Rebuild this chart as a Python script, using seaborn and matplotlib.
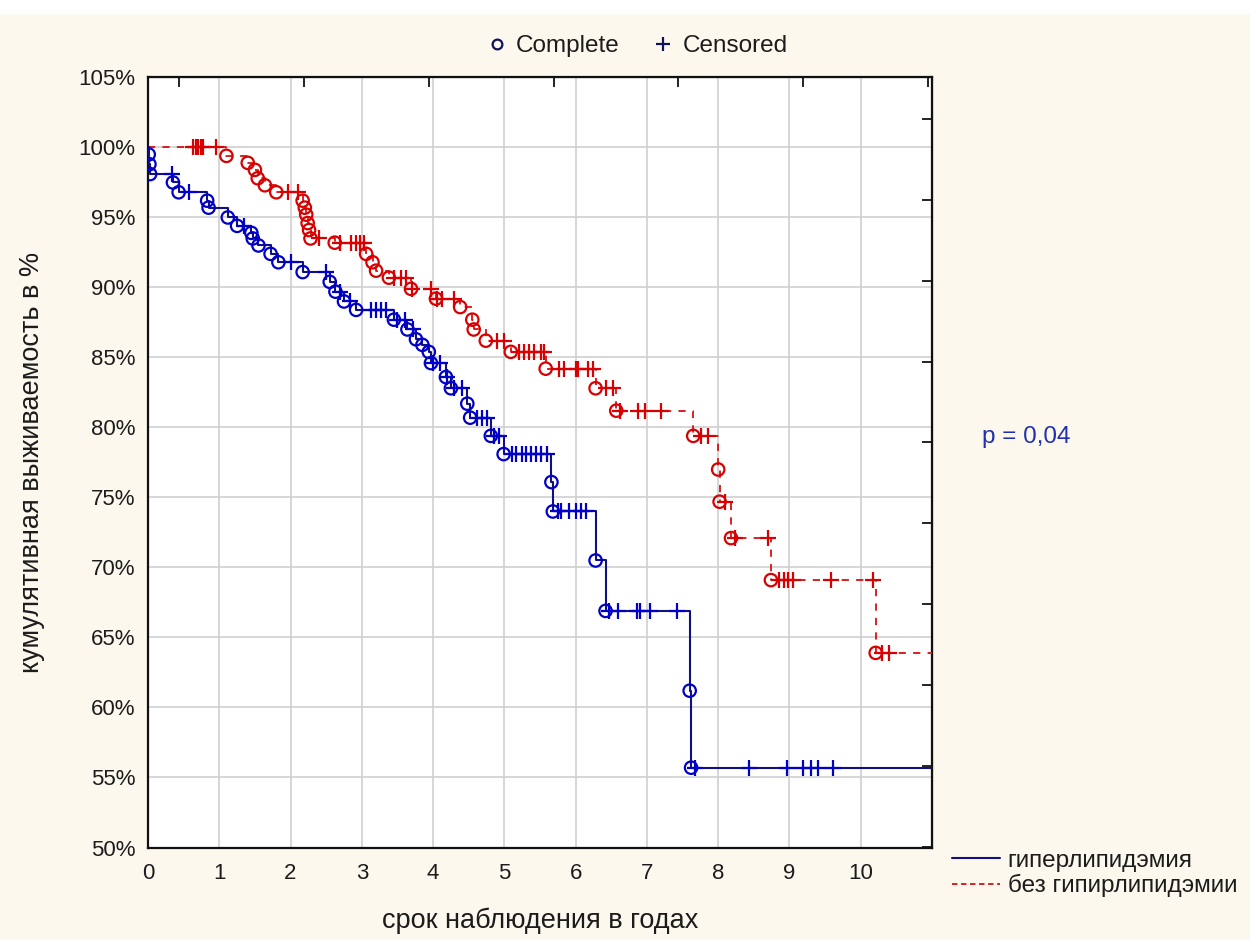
import numpy as np
import pandas as pd
import matplotlib
matplotlib.use("Agg")
import matplotlib.pyplot as plt
from matplotlib.lines import Line2D
from matplotlib.patches import Rectangle
import seaborn as sns

# group 1: гиперлипидэмия (solid blue)
hyper_event_t = [0.01, 0.02, 0.03, 0.35, 0.43, 0.83, 0.85, 1.12, 1.25, 1.45, 1.47, 1.55,
                 1.72, 1.83, 2.17, 2.55, 2.63, 2.75, 2.92, 3.45, 3.64, 3.76, 3.85, 3.94,
                 3.97, 4.18, 4.25, 4.48, 4.52, 4.81, 4.99, 5.66, 5.68, 6.28, 6.42, 7.60, 7.62]
hyper_event_s = [99.5, 98.8, 98.1, 97.5, 96.8, 96.2, 95.7, 95.0, 94.4, 93.9, 93.5, 93.0,
                 92.4, 91.8, 91.1, 90.4, 89.7, 89.0, 88.4, 87.7, 87.0, 86.3, 85.9, 85.4,
                 84.6, 83.6, 82.8, 81.7, 80.7, 79.4, 78.1, 76.1, 74.0, 70.5, 66.9, 61.2, 55.7]
hyper_cens_t = [0.34, 0.58, 1.35, 2.00, 2.50, 2.70, 2.83, 3.13, 3.20, 3.27, 3.34, 3.50,
                3.60, 3.72, 4.00, 4.10, 4.20, 4.30, 4.40, 4.62, 4.69, 4.76, 4.86, 4.92,
                5.11, 5.17, 5.25, 5.30, 5.38, 5.45, 5.52, 5.60, 5.75, 5.80, 5.90, 6.00,
                6.07, 6.14, 6.47, 6.60, 6.86, 6.90, 7.04, 7.42, 7.68, 8.43, 8.97, 9.19,
                9.30, 9.40, 9.61]
hyper_cens_s = [98.1, 96.8, 94.4, 91.8, 91.1, 89.7, 89.0, 88.4, 88.4, 88.4, 88.4, 87.7,
                87.7, 87.0, 84.6, 84.6, 83.6, 82.8, 82.8, 80.7, 80.7, 80.7, 79.4, 79.4,
                78.1, 78.1, 78.1, 78.1, 78.1, 78.1, 78.1, 78.1, 74.0, 74.0, 74.0, 74.0,
                74.0, 74.0, 66.9, 66.9, 66.9, 66.9, 66.9, 66.9, 55.7, 55.7, 55.7, 55.7,
                55.7, 55.7, 55.7]

# group 2: без гипирлипидэмии (dashed red)
norm_event_t = [1.10, 1.40, 1.50, 1.54, 1.64, 1.80, 2.17, 2.20, 2.22, 2.24, 2.26, 2.28,
                2.62, 3.06, 3.15, 3.20, 3.38, 3.69, 4.04, 4.38, 4.55, 4.57, 4.74, 5.09,
                5.58, 6.28, 6.57, 7.65, 8.00, 8.02, 8.18, 8.74, 10.21]
norm_event_s = [99.4, 98.9, 98.4, 97.8, 97.3, 96.8, 96.2, 95.7, 95.2, 94.6, 94.1, 93.5,
                93.2, 92.4, 91.8, 91.2, 90.7, 89.9, 89.2, 88.6, 87.7, 87.0, 86.2, 85.4,
                84.2, 82.8, 81.2, 79.4, 77.0, 74.7, 72.1, 69.1, 63.9]
norm_cens_t = [0.63, 0.67, 0.70, 0.74, 0.77, 0.96, 1.96, 2.10, 2.40, 2.70, 2.85, 2.92,
               2.97, 3.03, 3.45, 3.55, 3.62, 3.71, 3.97, 4.06, 4.13, 4.29, 4.90, 5.00,
               5.20, 5.27, 5.34, 5.41, 5.51, 5.55, 5.76, 5.83, 6.00, 6.04, 6.18, 6.24,
               6.43, 6.53, 6.62, 6.88, 6.98, 7.20, 7.76, 7.86, 8.10, 8.24, 8.70, 8.85,
               8.92, 8.98, 9.05, 9.58, 10.17, 10.30, 10.40]
norm_cens_s = [100.0, 100.0, 100.0, 100.0, 100.0, 100.0, 96.8, 96.8, 93.5, 93.2, 93.2, 93.2,
               93.2, 93.2, 90.7, 90.7, 90.7, 89.9, 89.9, 89.2, 89.2, 89.2, 86.2, 86.2,
               85.4, 85.4, 85.4, 85.4, 85.4, 85.4, 84.2, 84.2, 84.2, 84.2, 84.2, 84.2,
               82.8, 82.8, 81.2, 81.2, 81.2, 81.2, 79.4, 79.4, 74.7, 72.1, 72.1, 69.1,
               69.1, 69.1, 69.1, 69.1, 69.1, 63.9, 63.9]

X_MAX = 11.0
Y_TICKS = list(range(50, 106, 5))
X_TICKS = list(range(0, 11))
# Statistica draws extra unlabeled ticks on the top / right frame
TOP_TICKS = [0.44, 2.19, 3.94, 5.69, 7.44, 9.19, 10.94]
RIGHT_TICKS = [50.05, 55.83, 61.61, 67.39, 73.18, 78.96, 84.68, 90.46, 96.24, 102.02]

BG = "#fcf8ee"
BLUE_LINE = "#101080"
BLUE_MARK = "#0000c8"
RED_LINE = "#d81010"
RED_MARK = "#d80000"
TXT = "#1c1c1c"


def step_frame(ev_t, ev_s, ce_t, ce_s):
    df = pd.DataFrame({"t": [0.0] + ev_t + ce_t, "s": [100.0] + ev_s + ce_s})
    df = df.sort_values(["t", "s"], ascending=[True, False]).reset_index(drop=True)
    end = pd.DataFrame({"t": [X_MAX], "s": [df["s"].iloc[-1]]})
    return pd.concat([df, end], ignore_index=True)


sns.set_style("white")
plt.rcParams["font.family"] = ["Liberation Sans", "DejaVu Sans"]

fig = plt.figure(figsize=(12.5, 9.4), dpi=100, facecolor=BG)
fig.patches.append(Rectangle((0, 1 - 13 / 940), 1, 13 / 940, transform=fig.transFigure,
                             color="white", zorder=0))
ax = fig.add_axes([0.1184, 0.0984, 0.6272, 0.8192])
ax.set_facecolor("white")

hyper = step_frame(hyper_event_t, hyper_event_s, hyper_cens_t, hyper_cens_s)
norm = step_frame(norm_event_t, norm_event_s, norm_cens_t, norm_cens_s)

sns.lineplot(data=norm, x="t", y="s", estimator=None, sort=False, drawstyle="steps-post",
             color=RED_LINE, linewidth=1.3, linestyle=(0, (4, 4)), ax=ax, zorder=3)
sns.lineplot(data=hyper, x="t", y="s", estimator=None, sort=False, drawstyle="steps-post",
             color=BLUE_LINE, linewidth=1.5, ax=ax, zorder=3)

for et, es, ct, cs, mc in [
    (norm_event_t, norm_event_s, norm_cens_t, norm_cens_s, RED_MARK),
    (hyper_event_t, hyper_event_s, hyper_cens_t, hyper_cens_s, BLUE_MARK),
]:
    ax.scatter(et, es, s=80, marker="o", facecolors="none", edgecolors=mc,
               linewidths=1.6, zorder=4)
    ax.scatter(ct, cs, s=130, marker="+", color=mc, linewidths=1.6, zorder=4)

ax.set_xlim(0, X_MAX)
ax.set_ylim(50, 105)
ax.set_xticks(X_TICKS)
ax.set_yticks(Y_TICKS)
ax.set_yticklabels([f"{v}%" for v in Y_TICKS])
ax.grid(True, color="#cfcfcf", linewidth=1.2)
ax.set_axisbelow(True)
ax.tick_params(axis="both", labelsize=16, colors=TXT, length=0)
ax.tick_params(axis="y", pad=9)
ax.tick_params(axis="x", pad=11)

for sp in ax.spines.values():
    sp.set_visible(True)
    sp.set_color("#111111")
    sp.set_linewidth(1.6)

top = ax.secondary_xaxis("top")
top.set_xticks(TOP_TICKS)
top.set_xticklabels([])
top.tick_params(direction="in", length=7, width=1.3, colors="#111111")
right = ax.secondary_yaxis("right")
right.set_yticks(RIGHT_TICKS)
right.set_yticklabels([])
right.tick_params(direction="in", length=7, width=1.3, colors="#111111")

ax.set_xlabel("срок наблюдения в годах", fontsize=19.5, color=TXT, labelpad=17)
ax.set_ylabel("кумулятивная выживаемость в %", fontsize=19.5, color=TXT, labelpad=24)

ax.text(1.064, 0.533, "p = 0,04", transform=ax.transAxes, fontsize=17.5,
        color="#2030b0", ha="left", va="center")

marker_handles = [
    Line2D([], [], marker="o", linestyle="none", markerfacecolor="none",
           markeredgecolor="#101060", markersize=7, markeredgewidth=1.6, label="Complete"),
    Line2D([], [], marker="+", linestyle="none", color="#101060",
           markersize=10, markeredgewidth=1.6, label="Censored"),
]
fig.legend(handles=marker_handles, loc="center", bbox_to_anchor=(0.508, 0.951), ncol=2,
           frameon=False, fontsize=17.5, handletextpad=0.2, columnspacing=1.2,
           handlelength=1.2, labelcolor=TXT)

line_handles = [
    Line2D([], [], color=BLUE_LINE, linewidth=1.5, label="гиперлипидэмия"),
    Line2D([], [], color=RED_LINE, linewidth=1.3, linestyle=(0, (3, 2)),
           label="без гипирлипидэмии"),
]
fig.legend(handles=line_handles, loc="lower left", bbox_to_anchor=(0.744, 0.022),
           frameon=False, fontsize=17.5, handlelength=2.0, handletextpad=0.3,
           labelspacing=0.1, labelcolor=TXT)

fig.savefig("out.png", dpi=100, facecolor=BG)
